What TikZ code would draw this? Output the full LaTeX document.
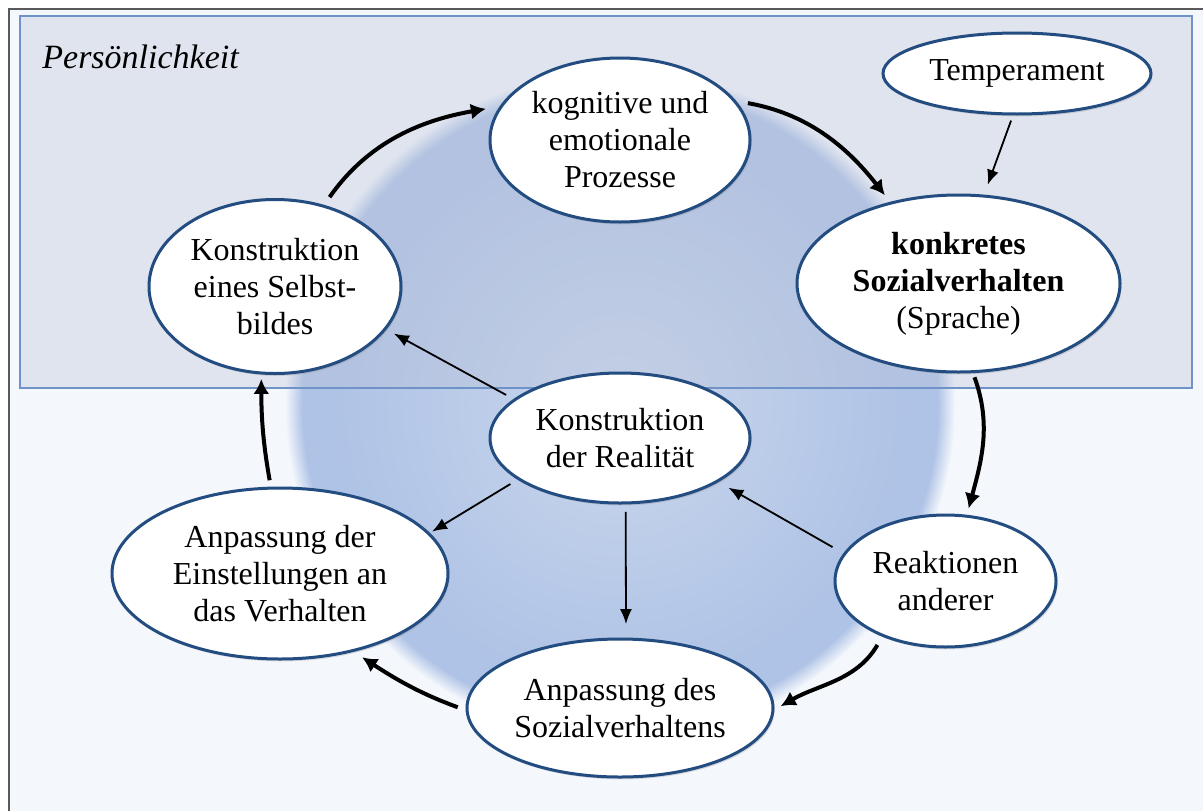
\documentclass[tikz,border=0pt]{standalone}
\usepackage{fontspec}
\setmainfont{Liberation Serif}
\usepackage{tikz}
\usetikzlibrary{arrows,arrows.meta}
\usetikzlibrary{shapes,shadows}
\usetikzlibrary{calc,positioning}

\definecolor{pagebg}{HTML}{F4F7FC}
\definecolor{rimblue}{HTML}{AFC3E6}
\definecolor{coreblue}{HTML}{CAD7EC}
\definecolor{boxfill}{HTML}{B8C1D7}
\definecolor{boxline}{HTML}{6F93C8}
\definecolor{nodeline}{HTML}{234C80}
\definecolor{framegray}{HTML}{595959}

\pgfdeclareradialshading{kreis}{\pgfpointorigin}{color(0bp)=(coreblue); color(21bp)=(rimblue); color(23.7bp)=(rimblue); color(25bp)=(pagebg); color(50bp)=(pagebg)}

\begin{document}
\begin{tikzpicture}[x=0.5pt,y=0.5pt]
    \tikzstyle{bubble}=[ellipse, draw=nodeline, line width=1.5pt, fill=white, inner sep=0pt, outer sep=0pt, align=center, font=\fontsize{16pt}{18.5pt}\selectfont, drop shadow={shadow xshift=0.8pt, shadow yshift=-1.2pt, opacity=0.25}]
    \tikzstyle{bigarrow}=[line width=2pt, -{Latex[length=7.5pt,width=8pt]}]
    \tikzstyle{smallarrow}=[line width=0.9pt, -{Latex[length=7.5pt,width=6pt]}]

    % page, frame and the glow in the middle
    \useasboundingbox (0,0) rectangle (1203,811);
    \fill[white] (0,0) rectangle (1203,811);
    \fill[pagebg] (9,0) rectangle (1203,802);
    \draw[framegray, line width=1pt] (9,0) -- (9,802) -- (1203,802);
    \shade[shading=kreis] (620,406) circle[radius=167.5pt];

    % Persoenlichkeit box
    \fill[boxfill, fill opacity=0.35] (20,423) rectangle (1192,795);
    \draw[boxline, line width=1.2pt] (20,423) rectangle (1192,795);
    \node[anchor=base west, inner sep=0pt, font=\fontsize{17pt}{20pt}\selectfont\itshape] (titel) at (42,743) {Persönlichkeit};

    \node[bubble, minimum width=130pt, minimum height=82pt]     (kog)    at (620,671)     {kognitive und\\emotionale\\Prozesse};
    \node[bubble, minimum width=134pt, minimum height=40.5pt]   (temp)   at (1017,737.5)  {Temperament};
    \node[bubble, minimum width=161.5pt, minimum height=88.5pt] (konk)   at (958.5,527.5) {\textbf{konkretes}\\\textbf{Sozialverhalten}\\(Sprache)};
    \node[bubble, minimum width=126pt, minimum height=87pt]     (selbst) at (275,524.5)   {Konstruktion\\eines Selbst-\\bildes};
    \node[bubble, minimum width=130pt, minimum height=65pt]     (real)   at (620,373)     {Konstruktion\\der Realität};
    \node[bubble, minimum width=110.5pt, minimum height=66pt]   (reak)   at (945.5,230)   {Reaktionen\\anderer};
    \node[bubble, minimum width=168pt, minimum height=85.5pt]   (einst)  at (280,237.5)   {Anpassung der\\Einstellungen an\\das Verhalten};
    \node[bubble, minimum width=153pt, minimum height=69pt]     (anp)    at (620,103)     {Anpassung des\\Sozialverhaltens};

    % the outer cycle
    \draw[bigarrow, shorten <=5.5pt, shorten >=8pt] (selbst.59) to[out=55,in=190] (kog.164);
    \draw[bigarrow, shorten <=7pt, shorten >=5pt] (kog.19) to[out=-10,in=128] (konk.130);
    \draw[bigarrow, shorten <=3pt, shorten >=4pt] (konk.-81) to[out=-70,in=75] (reak.72);
    \draw[bigarrow, shorten <=5.5pt, shorten >=4.5pt] (reak.221) to[out=-120,in=30] (anp.-1);
    \draw[bigarrow, shorten <=5pt, shorten >=6pt] (anp.181) to[out=160,in=-33] (einst.-47);
    \draw[bigarrow, shorten <=4pt, shorten >=3pt] (einst.96) to[out=100,in=-90] (selbst.261);

    % thin arrows
    \draw[smallarrow, shorten <=3.5pt, shorten >=6pt] (temp.265) -- (konk.74);
    \draw[smallarrow, shorten <=5pt, shorten >=5pt] (real.160) -- (selbst.-21);
    \draw[smallarrow, shorten <=5pt, shorten >=2pt] (real.202) -- (einst.15);
    \draw[smallarrow, shorten <=4.5pt, shorten >=7.5pt] (real.-85) -- (anp.85);
    \draw[smallarrow, shorten <=7pt, shorten >=6.5pt] (reak.165) -- (real.-24);
\end{tikzpicture}
\end{document}
